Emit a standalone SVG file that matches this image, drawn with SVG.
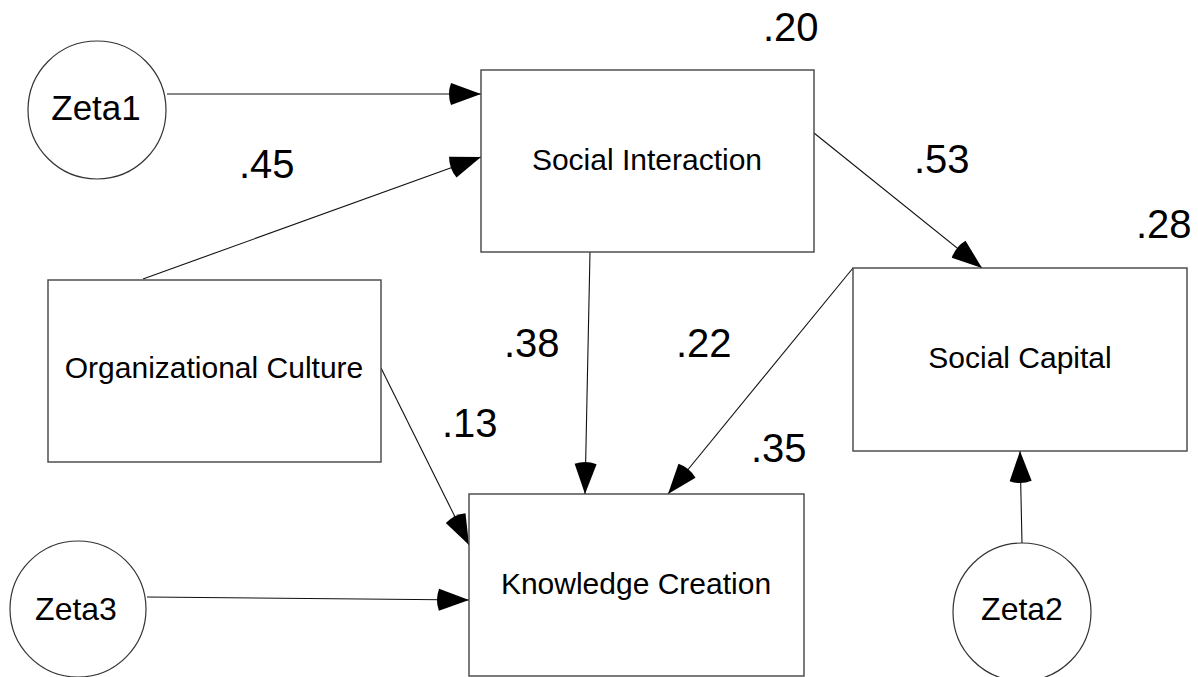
<svg xmlns="http://www.w3.org/2000/svg" width="1198" height="677" viewBox="0 0 1198 677">
<style>
.box{fill:#fff;stroke:#444;stroke-width:1.4}
.circ{fill:#fff;stroke:#333;stroke-width:1.2}
.lbl{font-family:"Liberation Sans",Arial,sans-serif;font-size:30px;fill:#000;text-anchor:middle}
.zeta{font-family:"Liberation Sans",Arial,sans-serif;font-size:32px;fill:#000;text-anchor:middle}
.coef{font-family:"Liberation Sans",Arial,sans-serif;font-size:40px;fill:#000}
.edge{stroke:#111;stroke-width:1.1;fill:none;marker-end:url(#ah)}
</style>
<defs>
<marker id="ah" markerUnits="userSpaceOnUse" markerWidth="40" markerHeight="40" refX="0" refY="0" orient="auto" overflow="visible">
<path d="M0,0 L-30,-11 A32,32 0 0,0 -30,11 Z" fill="#000"/>
</marker>
</defs>
<rect width="1198" height="677" fill="#fff"/>
<g id="connectors">
<line class="edge" x1="167" y1="94" x2="481" y2="94"/>
<line class="edge" x1="143" y1="279" x2="481" y2="157"/>
<line class="edge" x1="814" y1="133" x2="982" y2="268"/>
<line class="edge" x1="590" y1="252" x2="585" y2="494"/>
<line class="edge" x1="381" y1="368" x2="469" y2="545"/>
<line class="edge" x1="853" y1="268" x2="668" y2="494"/>
<line class="edge" x1="147" y1="597" x2="469" y2="600"/>
<line class="edge" x1="1022" y1="543" x2="1020" y2="451"/>
</g>
<g id="zeta1">
<circle class="circ" cx="97" cy="110" r="69"/>
<text class="zeta" x="96" y="120" style="font-size:35px">Zeta1</text>
</g>
<g id="social-interaction">
<rect class="box" x="481" y="70" width="333" height="182"/>
<text class="lbl" x="647" y="170">Social Interaction</text>
</g>
<g id="organizational-culture">
<rect class="box" x="48" y="280" width="333" height="182"/>
<text class="lbl" x="214" y="378">Organizational Culture</text>
</g>
<g id="social-capital">
<rect class="box" x="853" y="268" width="334" height="183"/>
<text class="lbl" x="1020" y="368">Social Capital</text>
</g>
<g id="knowledge-creation">
<rect class="box" x="469" y="494" width="335" height="182"/>
<text class="lbl" x="636" y="594">Knowledge Creation</text>
</g>
<g id="zeta3">
<circle class="circ" cx="78" cy="609" r="68"/>
<text class="zeta" x="76" y="620">Zeta3</text>
</g>
<g id="zeta2">
<circle class="circ" cx="1022" cy="612" r="69"/>
<text class="zeta" x="1022" y="620">Zeta2</text>
</g>
<g id="coefficients">
<text class="coef" x="763" y="41">.20</text>
<text class="coef" x="1136" y="238">.28</text>
<text class="coef" x="239" y="178">.45</text>
<text class="coef" x="914" y="173">.53</text>
<text class="coef" x="504" y="357">.38</text>
<text class="coef" x="442" y="437">.13</text>
<text class="coef" x="676" y="357">.22</text>
<text class="coef" x="751" y="462">.35</text>
</g>
</svg>
